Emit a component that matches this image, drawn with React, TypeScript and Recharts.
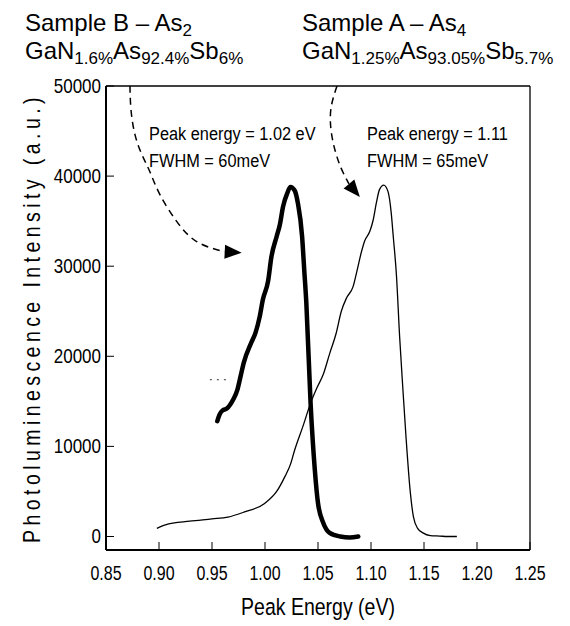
import React from 'react';
import { LineChart, Line, XAxis, YAxis, ReferenceLine } from 'recharts';

// Sample B (As2) - thick curve
const energyB = [0.955, 0.957, 0.960, 0.964, 0.970, 0.974, 0.977, 0.980, 0.987, 0.991, 0.995, 0.998, 1.003, 1.006, 1.011, 1.014, 1.017, 1.021, 1.024, 1.028, 1.031, 1.035, 1.037, 1.039, 1.043, 1.047, 1.050, 1.055, 1.061, 1.071, 1.080, 1.088];
const intensityB = [12800, 13500, 14000, 14200, 15200, 16300, 17800, 19300, 21500, 22600, 24400, 26300, 28400, 31000, 33300, 34600, 36600, 38100, 38800, 38400, 37000, 33300, 29600, 25900, 14800, 7400, 3700, 1500, 400, 0, -100, 0];

// Sample A (As4) - thin curve
const energyA = [0.898, 0.906, 0.929, 0.950, 0.965, 0.980, 1.000, 1.011, 1.019, 1.024, 1.028, 1.036, 1.043, 1.049, 1.055, 1.061, 1.067, 1.072, 1.077, 1.083, 1.087, 1.091, 1.094, 1.099, 1.102, 1.105, 1.108, 1.112, 1.116, 1.119, 1.121, 1.124, 1.127, 1.130, 1.133, 1.137, 1.140, 1.144, 1.149, 1.156, 1.165, 1.172, 1.181];
const intensityA = [900, 1300, 1700, 1950, 2150, 2700, 3700, 5000, 6700, 8000, 9600, 12300, 14800, 16500, 18000, 20300, 22500, 25000, 26500, 27700, 29600, 31600, 32800, 33900, 35100, 37000, 38500, 39000, 38300, 36000, 33300, 29000, 22200, 16500, 11100, 5000, 2200, 900, 400, 100, 50, 0, 0];

// dashed arrows from the titles to the peaks
const arrowBEnergy = [0.8726, 0.8736, 0.8774, 0.884, 0.8915, 0.901, 0.917, 0.936, 0.962];
const arrowBIntensity = [50000, 47340, 44570, 42350, 40460, 37910, 34920, 32700, 31600];
const arrowAEnergy = [1.0679, 1.0623, 1.0623, 1.066, 1.0717, 1.0792];
const arrowAIntensity = [50000, 47560, 45120, 42900, 40910, 39130];

const xTicks = [0.85, 0.9, 0.95, 1.0, 1.05, 1.1, 1.15, 1.2, 1.25];
const yTicks = [0, 10000, 20000, 30000, 40000, 50000];

const zip = (xs: number[], ys: number[]) => xs.map((e, i) => ({ e, i: ys[i] }));
const dataB = zip(energyB, intensityB);
const dataA = zip(energyA, intensityA);
const arrowB = zip(arrowBEnergy, arrowBIntensity);
const arrowA = zip(arrowAEnergy, arrowAIntensity);

const SANS = "'Liberation Sans', Arial, sans-serif";

// condensed text (no narrow font installed, so squeeze horizontally)
const NText = ({ x, y, size, sx = 0.83, anchor = 'start', rotate = 0, spacing = 0, children }: any) => (
  <text
    transform={`translate(${x},${y}) rotate(${rotate}) scale(${sx},1)`}
    textAnchor={anchor}
    fontFamily={SANS}
    fontSize={size}
    letterSpacing={spacing}
    fill="#000"
  >
    {children}
  </text>
);

const XTick = (props: any) => {
  const { x, y, payload } = props;
  return (
    <g>
      <line x1={x} x2={x} y1={y} y2={y - 8} stroke="#000" strokeWidth={1} />
      <NText x={x} y={y + 30} size={19.5} sx={0.82} anchor="middle">
        {payload.value.toFixed(2)}
      </NText>
    </g>
  );
};

const YTick = (props: any) => {
  const { x, y, payload } = props;
  return (
    <g>
      <line x1={x} x2={x + 8} y1={y} y2={y} stroke="#000" strokeWidth={1} />
      <NText x={x - 5} y={y + 7} size={20} sx={0.85} anchor="end">
        {payload.value}
      </NText>
    </g>
  );
};

// arrow head drawn at the last point of the dashed path
const arrowHead = (angle: number, last: number) => (props: any) => {
  const { cx, cy, index } = props;
  if (index !== last) return <g key={index} />;
  return (
    <polygon
      key={index}
      points="0,-7 17,0 0,7"
      fill="#000"
      transform={`translate(${cx},${cy}) rotate(${angle})`}
    />
  );
};

export default function App() {
  return (
    <div style={{ position: 'relative', width: 570, height: 626 }}>
      <style>{'body{margin:0}'}</style>
      <LineChart width={570} height={626} margin={{ top: 86, right: 40, bottom: 0, left: 0 }}>
        <XAxis
          dataKey="e"
          type="number"
          domain={[0.85, 1.25]}
          ticks={xTicks}
          height={76}
          tickSize={0}
          tickMargin={0}
          tickLine={false}
          tick={XTick}
          axisLine={{ stroke: '#000', strokeWidth: 2 }}
          allowDataOverflow
        />
        <YAxis
          dataKey="i"
          type="number"
          domain={[-1500, 50000]}
          ticks={yTicks}
          width={106}
          tickSize={0}
          tickMargin={0}
          tickLine={false}
          tick={YTick}
          axisLine={{ stroke: '#000', strokeWidth: 2 }}
          allowDataOverflow
        />
        <ReferenceLine y={50000} stroke="#000" strokeWidth={1.3} />
        <ReferenceLine x={1.25} stroke="#000" strokeWidth={1.3} />
        <ReferenceLine
          segment={[{ x: 0.948, y: 17400 }, { x: 0.966, y: 17400 }]}
          stroke="#000"
          strokeWidth={0.8}
          strokeDasharray="2 5"
        />
        <Line data={dataA} dataKey="i" type="monotone" stroke="#000" strokeWidth={1.3} dot={false} isAnimationActive={false} />
        <Line data={dataB} dataKey="i" type="monotone" stroke="#000" strokeWidth={4.5} strokeLinecap="round" dot={false} isAnimationActive={false} />
        <Line data={arrowB} dataKey="i" type="natural" stroke="#000" strokeWidth={1.5} strokeDasharray="7 5" dot={arrowHead(3, arrowB.length - 1)} isAnimationActive={false} />
        <Line data={arrowA} dataKey="i" type="natural" stroke="#000" strokeWidth={1.5} strokeDasharray="7 5" dot={arrowHead(50, arrowA.length - 1)} isAnimationActive={false} />
      </LineChart>
      <svg width={570} height={626} style={{ position: 'absolute', left: 0, top: 0, pointerEvents: 'none' }}>
        <g fontFamily={SANS} fontSize={24} fill="#000">
          <text x={25} y={31}>
            Sample B – As<tspan fontSize={17} dy={5}>2</tspan>
          </text>
          <text x={25} y={59}>
            GaN<tspan fontSize={17} dy={5}>1.6%</tspan>
            <tspan dy={-5}>As</tspan>
            <tspan fontSize={17} dy={5}>92.4%</tspan>
            <tspan dy={-5}>Sb</tspan>
            <tspan fontSize={17} dy={5}>6%</tspan>
          </text>
          <text x={302} y={31}>
            Sample A – As<tspan fontSize={17} dy={5}>4</tspan>
          </text>
          <text x={302} y={59}>
            GaN<tspan fontSize={17} dy={5}>1.25%</tspan>
            <tspan dy={-5}>As</tspan>
            <tspan fontSize={17} dy={5}>93.05%</tspan>
            <tspan dy={-5}>Sb</tspan>
            <tspan fontSize={17} dy={5}>5.7%</tspan>
          </text>
        </g>
        <NText x={149} y={140} size={19} sx={0.86}>Peak energy = 1.02 eV</NText>
        <NText x={149} y={167} size={19} sx={0.86}>FWHM = 60meV</NText>
        <NText x={367} y={140} size={19} sx={0.86}>Peak energy = 1.11</NText>
        <NText x={367} y={167} size={19} sx={0.86}>FWHM = 65meV</NText>
        <NText x={318} y={615} size={23.5} sx={0.83} anchor="middle">Peak Energy (eV)</NText>
        <NText x={40} y={318} size={23} sx={0.85} rotate={-90} spacing={5.2} anchor="middle">
          Photoluminescence Intensity (a.u.)
        </NText>
      </svg>
    </div>
  );
}
